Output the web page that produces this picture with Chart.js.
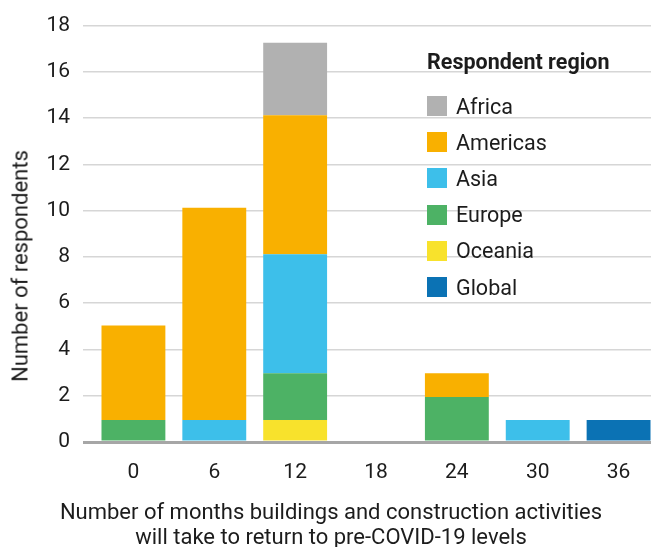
<!DOCTYPE html>
<html>
<head>
<meta charset="utf-8">
<script src="https://cdn.jsdelivr.net/npm/chart.js@4/dist/chart.umd.min.js"></script>
<style>
  html, body { margin: 0; padding: 0; background: #fff; overflow: hidden; }
  #wrap { position: relative; width: 651px; height: 547px; overflow: hidden; font-family: Roboto, "Noto Sans", sans-serif; color: #1c1c1c; }
  #holder { position: absolute; left: 0; top: 0; width: 659px; height: 547px; }
  #ytitle { position: absolute; left: 20px; top: 266px; transform: translate(-50%, -50%) rotate(-90deg); white-space: nowrap; font-size: 22px; }
  #xtitle { position: absolute; left: 0; width: 662px; top: 499px; text-align: center; font-size: 22px; line-height: 25px; }
  #legend { position: absolute; left: 427px; top: 48px; }
  #legend .ttl { font-weight: bold; font-size: 21.5px; height: 28px; line-height: 28px; margin-bottom: 12px; }
  #legend .item { display: flex; align-items: center; height: 36.2px; font-size: 21.5px; }
  #legend .sw { width: 20px; height: 20px; margin-right: 9px; }
</style>
</head>
<body>
<div id="wrap">
  <div id="holder"><canvas id="c" width="659" height="547"></canvas></div>
  <div id="ytitle">Number of respondents</div>
  <div id="xtitle">Number of months buildings and construction activities<br>will take to return to pre-COVID-19 levels</div>
  <div id="legend"></div>
</div>
<script>
// Months until activity returns to pre-COVID-19 levels
const months = ['0', '6', '12', '18', '24', '30', '36'];

// Respondents per region for each month bucket
const global   = [0, 0, 0, 0, 0, 0, 0.95];
const oceania  = [0, 0, 0.95, 0, 0, 0, 0];
const europe   = [0.95, 0, 2.02, 0, 1.94, 0, 0];
const asia     = [0, 0.95, 5.15, 0, 0, 0.95, 0];
const americas = [4.09, 9.18, 6.0, 0, 1.03, 0, 0];
const africa   = [0, 0, 3.14, 0, 0, 0, 0];

// Y-axis ticks
const yTicks = [0, 2, 4, 6, 8, 10, 12, 14, 16, 18];

// Stack order, bottom to top
const series = [
  { label: 'Global',   data: global,   color: '#0b72b4' },
  { label: 'Oceania',  data: oceania,  color: '#f8e22c' },
  { label: 'Europe',   data: europe,   color: '#4db265' },
  { label: 'Asia',     data: asia,     color: '#3dbfea' },
  { label: 'Americas', data: americas, color: '#f9b000' },
  { label: 'Africa',   data: africa,   color: '#b1b1b1' }
];

const chart = new Chart(document.getElementById('c'), {
  type: 'bar',
  data: {
    labels: months,
    datasets: series.map(s => ({
      label: s.label,
      data: s.data,
      backgroundColor: s.color,
      borderWidth: 0,
      categoryPercentage: 1,
      barPercentage: 0.79
    }))
  },
  options: {
    responsive: false,
    devicePixelRatio: 1,
    animation: false,
    layout: { padding: { top: 24, right: 0, bottom: 0, left: 0 } },
    plugins: { legend: { display: false }, tooltip: { enabled: false } },
    scales: {
      x: {
        stacked: true,
        grid: { display: false, drawTicks: false },
        border: { display: false },
        ticks: { color: '#1c1c1c', font: { family: 'Roboto', size: 21 }, padding: 18, maxRotation: 0 },
        afterFit: s => { s.height = 105; }
      },
      y: {
        stacked: true,
        min: 0,
        max: 18,
        afterBuildTicks: s => { s.ticks = yTicks.map(v => ({ value: v })); },
        grid: {
          color: c => (c.tick && c.tick.value === 0) ? '#a6a6a6' : '#d6d6d6',
          lineWidth: c => (c.tick && c.tick.value === 0) ? 3 : 1.5,
          tickLength: 10
        },
        border: { display: false },
        ticks: { color: '#1c1c1c', font: { family: 'Roboto', size: 21 }, padding: 13 },
        afterFit: s => { s.width = 93; }
      }
    }
  }
});

// Legend listed top to bottom as Africa ... Global
const legend = document.getElementById('legend');
const ttl = document.createElement('div');
ttl.className = 'ttl';
ttl.textContent = 'Respondent region';
legend.appendChild(ttl);
series.slice().reverse().forEach(s => {
  const row = document.createElement('div');
  row.className = 'item';
  const sw = document.createElement('span');
  sw.className = 'sw';
  sw.style.background = s.color;
  const tx = document.createElement('span');
  tx.textContent = s.label;
  row.appendChild(sw);
  row.appendChild(tx);
  legend.appendChild(row);
});
</script>
</body>
</html>
